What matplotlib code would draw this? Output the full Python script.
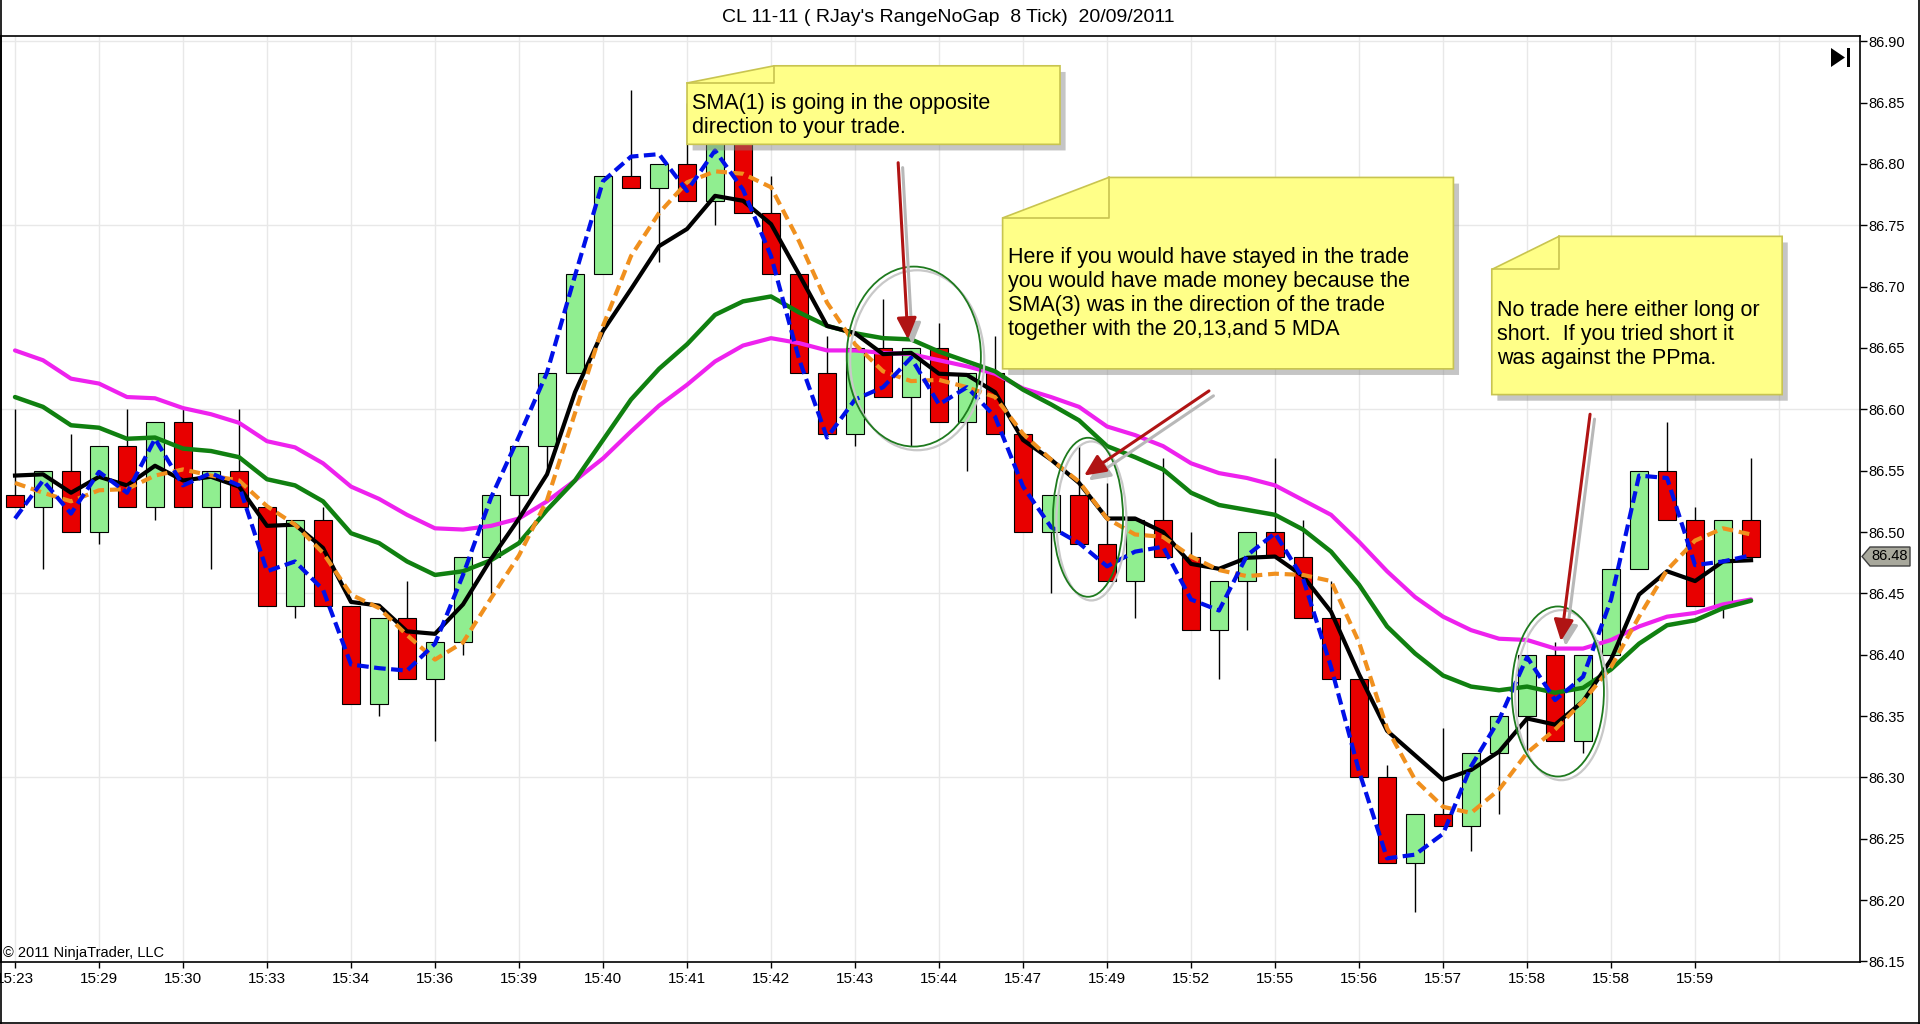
import numpy as np
import matplotlib
matplotlib.use("Agg")
import matplotlib.pyplot as plt
from matplotlib.patches import Polygon, Ellipse
from matplotlib.lines import Line2D

plt.rcParams['font.family'] = ['Liberation Sans', 'DejaVu Sans']
NARROW = ['Liberation Sans Narrow', 'Liberation Sans', 'DejaVu Sans']

# range bars (8 tick), one row per bar
opens = [86.53, 86.52, 86.55, 86.50, 86.57, 86.52, 86.59, 86.52, 86.55, 86.52,
         86.44, 86.51, 86.44, 86.36, 86.43, 86.38, 86.41, 86.48, 86.53, 86.57,
         86.63, 86.71, 86.79, 86.78, 86.80, 86.77, 86.84, 86.76, 86.71, 86.63,
         86.58, 86.65, 86.61, 86.65, 86.59, 86.63, 86.58, 86.50, 86.53, 86.49,
         86.46, 86.51, 86.48, 86.42, 86.46, 86.50, 86.48, 86.43, 86.38, 86.30,
         86.23, 86.27, 86.26, 86.32, 86.35, 86.40, 86.33, 86.40, 86.47, 86.55,
         86.51, 86.44, 86.51]
highs = [86.60, 86.55, 86.58, 86.57, 86.60, 86.59, 86.60, 86.55, 86.60, 86.52,
         86.51, 86.52, 86.44, 86.43, 86.46, 86.41, 86.48, 86.53, 86.57, 86.63,
         86.71, 86.79, 86.86, 86.80, 86.85, 86.83, 86.84, 86.79, 86.71, 86.66,
         86.65, 86.69, 86.65, 86.67, 86.63, 86.66, 86.58, 86.53, 86.57, 86.54,
         86.51, 86.56, 86.50, 86.46, 86.50, 86.56, 86.51, 86.46, 86.38, 86.31,
         86.27, 86.34, 86.32, 86.35, 86.40, 86.41, 86.40, 86.47, 86.55, 86.59,
         86.52, 86.51, 86.56]
lows = [86.52, 86.47, 86.50, 86.49, 86.52, 86.51, 86.52, 86.47, 86.52, 86.44,
        86.43, 86.44, 86.36, 86.35, 86.38, 86.33, 86.40, 86.45, 86.49, 86.55,
        86.63, 86.71, 86.78, 86.72, 86.77, 86.75, 86.76, 86.71, 86.63, 86.58,
        86.57, 86.61, 86.57, 86.59, 86.55, 86.58, 86.50, 86.45, 86.49, 86.46,
        86.43, 86.48, 86.42, 86.38, 86.42, 86.48, 86.43, 86.38, 86.30, 86.23,
        86.19, 86.26, 86.24, 86.27, 86.32, 86.33, 86.32, 86.39, 86.47, 86.51,
        86.44, 86.43, 86.48]
closes = [86.52, 86.55, 86.50, 86.57, 86.52, 86.59, 86.52, 86.55, 86.52, 86.44,
          86.51, 86.44, 86.36, 86.43, 86.38, 86.41, 86.48, 86.53, 86.57, 86.63,
          86.71, 86.79, 86.78, 86.80, 86.77, 86.83, 86.76, 86.71, 86.63, 86.58,
          86.65, 86.61, 86.65, 86.59, 86.63, 86.58, 86.50, 86.53, 86.49, 86.46,
          86.51, 86.48, 86.42, 86.46, 86.50, 86.48, 86.43, 86.38, 86.30, 86.23,
          86.27, 86.26, 86.32, 86.35, 86.40, 86.33, 86.40, 86.47, 86.55, 86.51,
          86.44, 86.51, 86.48]

# indicator lines
sma_fast = [86.511, 86.542, 86.515, 86.549, 86.532, 86.576, 86.538, 86.548, 86.538, 86.468,
            86.476, 86.453, 86.392, 86.389, 86.387, 86.409, 86.465, 86.528, 86.578, 86.630,
            86.709, 86.786, 86.806, 86.808, 86.778, 86.811, 86.779, 86.725, 86.641, 86.577,
            86.608, 86.618, 86.642, 86.604, 86.618, 86.594, 86.537, 86.504, 86.491, 86.472,
            86.484, 86.488, 86.445, 86.436, 86.481, 86.499, 86.462, 86.390, 86.305, 86.234,
            86.237, 86.254, 86.309, 86.347, 86.398, 86.363, 86.382, 86.445, 86.546, 86.544,
            86.473, 86.476, 86.481]
ma_black = [86.546, 86.547, 86.532, 86.545, 86.538, 86.554, 86.542, 86.545, 86.537, 86.505,
            86.506, 86.487, 86.443, 86.440, 86.419, 86.417, 86.441, 86.478, 86.511, 86.547,
            86.614, 86.664, 86.698, 86.733, 86.747, 86.774, 86.770, 86.751, 86.710, 86.668,
            86.662, 86.645, 86.646, 86.629, 86.628, 86.614, 86.575, 86.559, 86.540, 86.511,
            86.511, 86.500, 86.474, 86.470, 86.479, 86.480, 86.464, 86.435, 86.384, 86.338,
            86.318, 86.298, 86.306, 86.321, 86.348, 86.343, 86.362, 86.396, 86.449, 86.468,
            86.460, 86.476, 86.477]
ma_orange = [86.540, 86.532, 86.525, 86.534, 86.535, 86.546, 86.551, 86.546, 86.542, 86.521,
             86.506, 86.483, 86.449, 86.438, 86.416, 86.396, 86.410, 86.446, 86.481, 86.526,
             86.597, 86.668, 86.725, 86.760, 86.785, 86.794, 86.792, 86.781, 86.737, 86.687,
             86.653, 86.631, 86.623, 86.624, 86.618, 86.610, 86.580, 86.559, 86.541, 86.511,
             86.498, 86.496, 86.480, 86.469, 86.464, 86.466, 86.465, 86.460, 86.410, 86.340,
             86.298, 86.276, 86.271, 86.290, 86.320, 86.339, 86.362, 86.390, 86.431, 86.469,
             86.493, 86.503, 86.498]
ma_green = [86.610, 86.602, 86.587, 86.585, 86.576, 86.577, 86.568, 86.566, 86.561, 86.543,
            86.538, 86.525, 86.499, 86.491, 86.476, 86.465, 86.468, 86.477, 86.491, 86.518,
            86.542, 86.575, 86.608, 86.633, 86.653, 86.677, 86.688, 86.692, 86.679, 86.668,
            86.662, 86.658, 86.657, 86.647, 86.639, 86.631, 86.616, 86.604, 86.591, 86.570,
            86.561, 86.551, 86.532, 86.522, 86.518, 86.514, 86.502, 86.484, 86.457, 86.423,
            86.401, 86.383, 86.374, 86.371, 86.374, 86.369, 86.373, 86.388, 86.409, 86.424,
            86.428, 86.438, 86.444]
ma_magenta = [86.648, 86.640, 86.625, 86.621, 86.610, 86.609, 86.601, 86.596, 86.589, 86.574,
              86.569, 86.556, 86.537, 86.527, 86.514, 86.503, 86.502, 86.505, 86.511, 86.525,
              86.542, 86.560, 86.582, 86.603, 86.620, 86.639, 86.652, 86.658, 86.654, 86.648,
              86.648, 86.646, 86.645, 86.640, 86.635, 86.629, 86.617, 86.610, 86.602, 86.586,
              86.579, 86.570, 86.556, 86.548, 86.544, 86.538, 86.526, 86.514, 86.492, 86.468,
              86.447, 86.431, 86.420, 86.413, 86.412, 86.405, 86.405, 86.412, 86.423, 86.431,
              86.434, 86.441, 86.445]

time_labels = ['15:23', '15:29', '15:30', '15:33', '15:34', '15:36', '15:39', '15:40',
               '15:41', '15:42', '15:43', '15:44', '15:47', '15:49', '15:52', '15:55',
               '15:56', '15:57', '15:58', '15:58', '15:59']
last_price = 86.48

title = "CL 11-11 ( RJay's RangeNoGap  8 Tick)  20/09/2011"
notes = [
    "SMA(1) is going in the opposite\ndirection to your trade.",
    "Here if you would have stayed in the trade\nyou would have made money because the\n"
    "SMA(3) was in the direction of the trade\ntogether with the 20,13,and 5 MDA",
    "No trade here either long or\nshort.  If you tried short it\nwas against the PPma.",
]

W, H = 1920, 1024


def fx(px):
    return px / W


def fy(py):
    return 1 - py / H


fig = plt.figure(figsize=(W / 100, H / 100), dpi=100)
ax = fig.add_axes([fx(1), 62 / H, 1859 / W, 926 / H])
ax.set_xlim(-0.5, 65.89)
ax.set_ylim(86.1495, 86.9043)

# grid
for gx in range(0, 64, 3):
    ax.axvline(gx, color='#E8E8E8', lw=1, zorder=0)
for gy in [86.30, 86.45, 86.60, 86.75, 86.90]:
    ax.axhline(gy, color='#E8E8E8', lw=1, zorder=0)

# candles
x = np.arange(len(opens))
o = np.array(opens)
c = np.array(closes)
body_col = ['#90EE90' if ci >= oi else '#E80000' for oi, ci in zip(o, c)]
ax.vlines(x, lows, highs, color='black', lw=1, zorder=2)
ax.bar(x, np.abs(c - o), bottom=np.minimum(o, c), width=0.64, color=body_col,
       edgecolor='black', linewidth=0.8, zorder=3)

# moving averages
ax.plot(x, ma_magenta, color='#EE22EE', lw=3, zorder=4, solid_capstyle='round')
ax.plot(x, ma_green, color='#108010', lw=3.2, zorder=4, solid_capstyle='round')
ax.plot(x, ma_black, color='black', lw=3, zorder=5)
ax.plot(x, ma_orange, color='#F0901E', lw=3, dashes=(2.6, 1.4), zorder=5)
ax.plot(x, sma_fast, color='#0010E8', lw=3, dashes=(2.8, 1.3), zorder=6)

# circled areas
for (cx, cy, ew, eh) in [(32.1, 86.643, 4.79, 0.1467),
                         (38.32, 86.512, 2.5, 0.1296),
                         (55.1, 86.370, 3.29, 0.1386)]:
    ax.add_patch(Ellipse((cx + 0.12, cy - 0.003), ew, eh, fill=False,
                         ec='#C8C8C8', lw=1.6, zorder=6))
    ax.add_patch(Ellipse((cx, cy), ew, eh, fill=False, ec='#1E7A1E', lw=1.3, zorder=7))

# arrows
for tail, tip in [((31.54, 86.801), (31.89, 86.657)),
                  ((42.64, 86.615), (38.18, 86.546)),
                  ((56.25, 86.596), (55.21, 86.411))]:
    for dx, dy, col in [(0.16, -0.004, '#B8B8B8'), (0, 0, '#B01414')]:
        ax.annotate('', xy=(tip[0] + dx, tip[1] + dy), xytext=(tail[0] + dx, tail[1] + dy),
                    arrowprops=dict(arrowstyle='-|>,head_length=0.65,head_width=0.3',
                                    color=col, lw=2.2, mutation_scale=20,
                                    shrinkA=0, shrinkB=0),
                    zorder=8)

# sticky notes
note_boxes = [(24.0, 27.11, 37.32, 86.880, 86.866, 86.816, 24.18, 86.858),
              (35.27, 39.06, 51.37, 86.789, 86.756, 86.633, 35.46, 86.732),
              (52.74, 55.14, 63.11, 86.741, 86.714, 86.612, 52.93, 86.689)]
for text, (xl, xt, xr, yt, yf, yb, tx, ty) in zip(notes, note_boxes):
    pts = [(xl, yf), (xt, yt), (xr, yt), (xr, yb), (xl, yb)]
    shadow = [(px + 0.2, py - 0.005) for px, py in pts]
    ax.add_patch(Polygon(shadow, closed=True, fc='#808080', ec='none', alpha=0.45, zorder=9))
    ax.add_patch(Polygon(pts, closed=True, fc='#FFFF88', ec='#C8C450', lw=1.2, zorder=10))
    ax.plot([xt, xt, xl], [yt, yf, yf], color='#C8C450', lw=1.2, zorder=11)
    ax.text(tx, ty, text, fontsize=15.5, va='top', ha='left', color='black',
            linespacing=1.17, zorder=12)

# axes styling
for sp in ax.spines.values():
    sp.set_color('black')
    sp.set_linewidth(1.2)
ax.yaxis.tick_right()
yt_vals = np.round(np.arange(86.15, 86.9001, 0.05), 2)
ax.set_yticks(yt_vals)
ax.set_yticklabels([f'{v:.2f}' for v in yt_vals], family=NARROW, fontsize=10.5)
ax.set_xticks(range(0, 61, 3))
ax.set_xticklabels(time_labels, family=NARROW, fontsize=11)
ax.tick_params(axis='y', direction='out', length=5, width=1, pad=1, colors='black')
ax.tick_params(axis='x', direction='out', length=4, width=1, pad=3, colors='black')

# title and copyright
fig.text(fx(948), fy(18), title, ha='center', va='center', fontsize=14)
fig.text(fx(3), fy(953), '\u00a9 2011 NinjaTrader, LLC', ha='left', va='center',
         fontsize=10.5, family=NARROW)

# last price tag
tag = [(fx(1862), fy(556.5)), (fx(1870), fy(547)), (fx(1910), fy(547)),
       (fx(1910), fy(566)), (fx(1870), fy(566))]
fig.patches.append(Polygon(tag, closed=True, fc='#A8A89C', ec='#404040', lw=1,
                           transform=fig.transFigure, figure=fig))
fig.text(fx(1890), fy(556.5), f'{last_price:.2f}', ha='center', va='center',
         fontsize=10.5, family=NARROW)

# scroll-to-end icon
fig.patches.append(Polygon([(fx(1831), fy(48)), (fx(1831), fy(67)), (fx(1845), fy(57.5))],
                           closed=True, fc='black', ec='none',
                           transform=fig.transFigure, figure=fig))
fig.patches.append(Polygon([(fx(1847), fy(48)), (fx(1850), fy(48)), (fx(1850), fy(67)),
                            (fx(1847), fy(67))], closed=True, fc='black', ec='none',
                           transform=fig.transFigure, figure=fig))

# outer frame
for xs, ys in [([0.5, 0.5], [0, H]), ([0, W], [H - 1, H - 1]), ([W - 1, W - 1], [0, H])]:
    fig.lines.append(Line2D([fx(v) for v in xs], [fy(v) for v in ys], color='black',
                            lw=1.2, transform=fig.transFigure, figure=fig))

fig.savefig('out.png', dpi=100)
